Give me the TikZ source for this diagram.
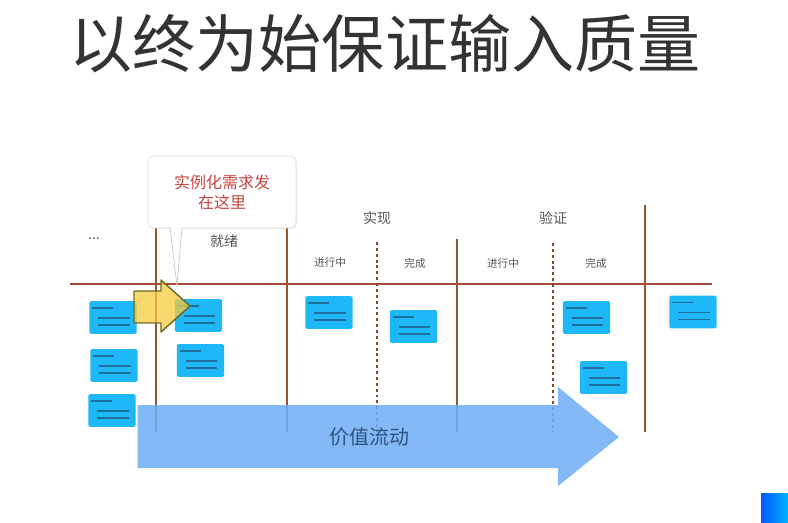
\documentclass[tikz,border=0pt]{standalone}
\usepackage{fontspec}
\setmainfont{Noto Sans CJK SC}
\usetikzlibrary{shadows}
\definecolor{lanebrown}{HTML}{96562F}
\definecolor{railred}{HTML}{A34A38}
\definecolor{cardblue}{HTML}{1FB8F6}
\definecolor{cardline}{HTML}{1E6E9E}
\definecolor{flowblue}{HTML}{70AEF6}
\definecolor{flowtext}{HTML}{2A5580}
\definecolor{labelgray}{HTML}{555555}
\definecolor{calloutred}{HTML}{C4443C}
\definecolor{arrowyellow}{HTML}{F8CB3E}
\definecolor{arrowedge}{HTML}{6E6A2A}
\tikzset{
  lane/.style={draw=lanebrown,line width=2.2pt},
  dotlane/.style={draw=lanebrown!85!black,line width=2.2pt,dash pattern=on 2.2pt off 2.2pt},
  rail/.style={draw=railred,line width=2.2pt},
  card/.style={fill=cardblue,rounded corners=1.5pt,minimum width=35.5pt,minimum height=24.5pt,inner sep=0pt,draw=none},
  cardrule/.style={draw=cardline,line width=1.1pt},
  lanelabel/.style={text=labelgray,font=\fontsize{10.5pt}{12pt}\selectfont,inner sep=0pt},
  sublabel/.style={text=labelgray,font=\fontsize{8pt}{10pt}\selectfont,inner sep=0pt},
}
\newcommand{\notecard}[3]{%
  \node[card] (#1) at (#2,#3) {};
  \draw[cardrule] ([shift={(2.2pt,-5.2pt)}]#1.north west) -- ++(16pt,0);
  \draw[cardrule] ([shift={(7pt,-12.8pt)}]#1.north west) -- ++(23.5pt,0);
  \draw[cardrule] ([shift={(7pt,-18pt)}]#1.north west) -- ++(23.5pt,0);
}
\begin{document}
\begin{tikzpicture}[x=0.75pt,y=-0.75pt]
\useasboundingbox (0,0) rectangle (788,522);
\fill[white] (0,0) rectangle (788,522);
\node[font=\fontsize{47.3pt}{50pt}\selectfont,text=black!80,inner sep=0pt] (title) at (385,44) {以终为始保证输入质量};

% lanes
\coordinate (a1) at (156,225); \coordinate (a2) at (156,432);
\coordinate (b1) at (287,225); \coordinate (b2) at (287,432);
\coordinate (c1) at (377,242); \coordinate (c2) at (377,432);
\coordinate (d1) at (457,239); \coordinate (d2) at (457,432);
\coordinate (e1) at (553,243); \coordinate (e2) at (553,432);
\coordinate (f1) at (645,205); \coordinate (f2) at (645,432);
\coordinate (r1) at (70,284); \coordinate (r2) at (712,284);
\draw[rail] (r1) -- (r2);
\draw[lane] (a1) -- (a2);
\draw[lane] (b1) -- (b2);
\draw[lane] (d1) -- (d2);
\draw[lane] (f1) -- (f2);
\draw[dotlane] (c1) -- (c2);
\draw[dotlane] (e1) -- (e2);

% labels
\node[lanelabel] (more) at (94,239) {...};
\node[lanelabel] (ready) at (224,241) {就绪};
\node[lanelabel] (impl) at (377,218) {实现};
\node[lanelabel] (verify) at (553,218) {验证};
\node[sublabel] (doing1) at (330,262) {进行中};
\node[sublabel] (done1) at (415,263) {完成};
\node[sublabel] (doing2) at (503,263) {进行中};
\node[sublabel] (done2) at (596,263) {完成};

% value flow arrow
\fill[flowblue,opacity=0.86] (137.5,405) -- (558,405) -- (558,387) -- (619,437) -- (558,486) -- (558,468) -- (137.5,468) -- cycle;
\node[text=flowtext,font=\fontsize{15pt}{18pt}\selectfont,inner sep=0pt] (flow) at (369,437) {价值流动};

% cards
\notecard{n1}{113}{317.5}
\notecard{n2}{198.5}{315.5}
\notecard{n3}{329}{312.5}
\notecard{n4}{413.5}{326.5}
\notecard{n5}{586.5}{317.5}
\notecard{n6}{603.5}{377.5}
\notecard{n7}{693}{312}
\notecard{n8}{114}{365.5}
\notecard{n9}{112}{410.5}
\notecard{n10}{200.5}{360.5}

% callout
\fill[white,draw=black!22,line width=0.5pt] (170,227) -- (177,286) -- (182,227) -- cycle;
\node[draw=black!14,fill=white,rounded corners=4pt,minimum width=111pt,minimum height=54pt,inner sep=0pt,
      drop shadow={shadow xshift=0.5pt,shadow yshift=-0.5pt,opacity=0.12,fill=black},
      align=center,text=calloutred,font=\fontsize{12pt}{15pt}\selectfont] (callout) at (222,192) {实例化需求发\\在这里};
\fill[white] (170.6,226) rectangle (181.4,229.5);

% yellow arrow
\draw[fill=arrowyellow,fill opacity=0.75,draw=arrowedge,line width=1.1pt,line join=round]
  (134,291) -- (161,291) -- (161,280) -- (190,306) -- (161,332) -- (161,323) -- (134,323) -- cycle;

% corner logo
\shade[left color=blue!65!cyan,right color=cyan!70!blue] (761,493) -- (788,493) -- (788,522) -- (761,522) -- cycle;
\end{tikzpicture}
\end{document}
